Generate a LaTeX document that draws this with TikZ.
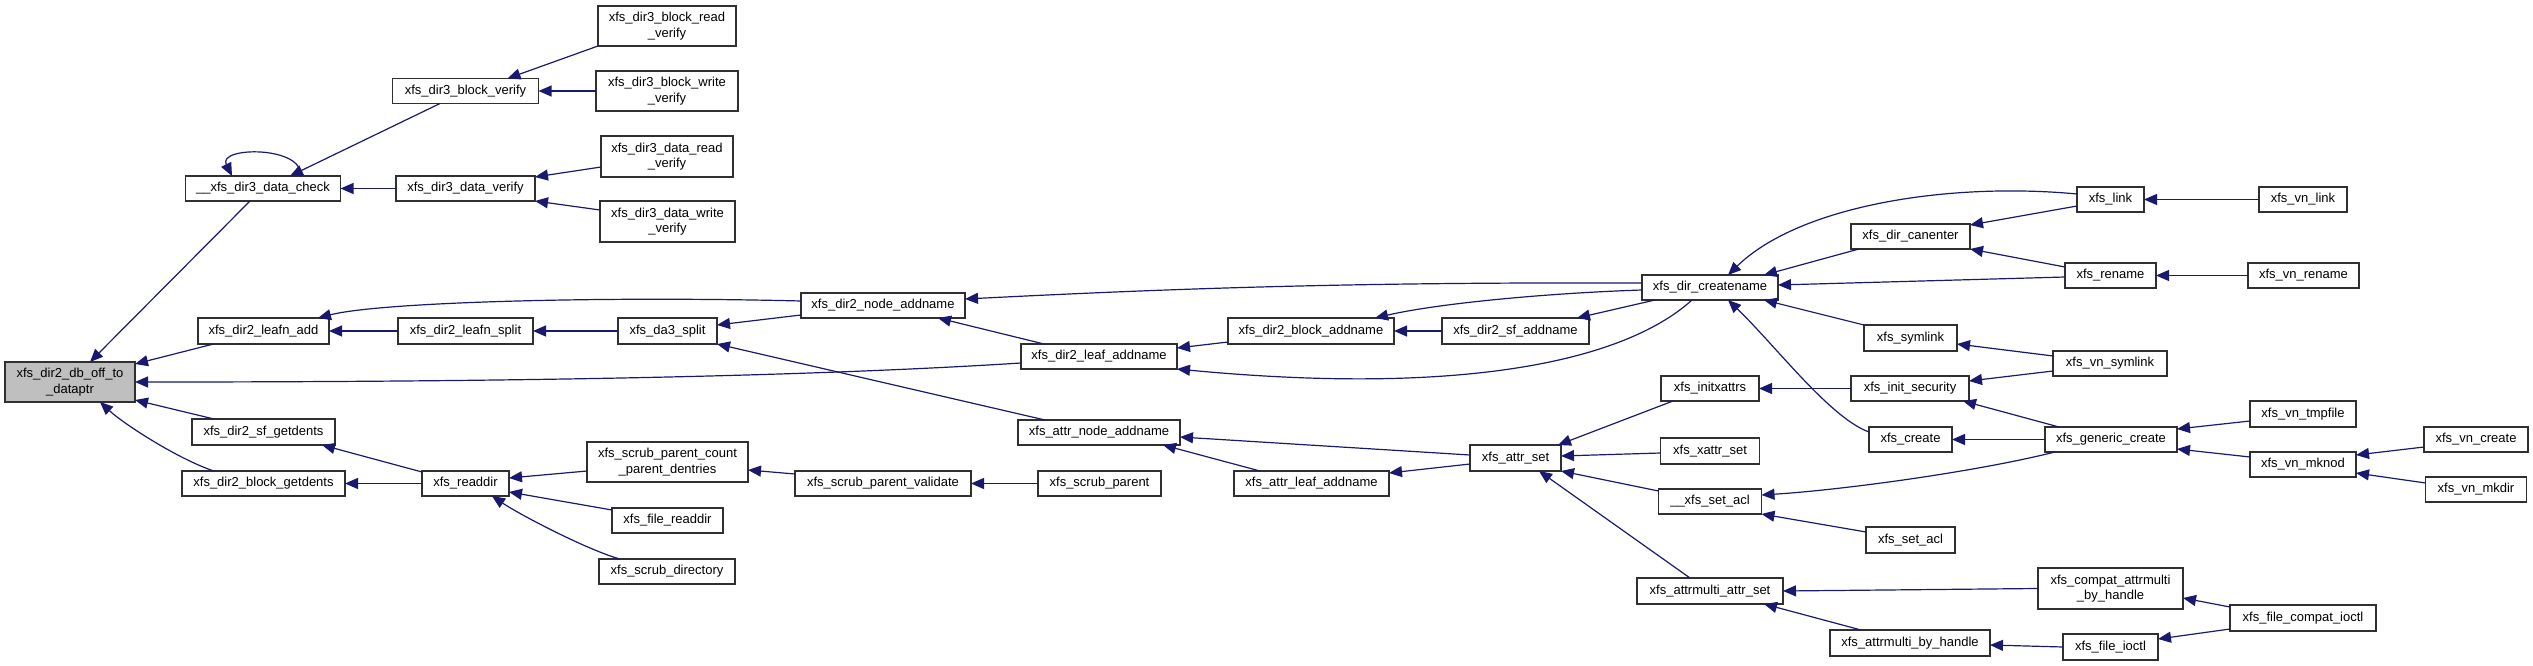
\documentclass[tikz,border=0pt]{standalone}
\usepackage{fontspec}
\setmainfont{Liberation Sans}
\usetikzlibrary{arrows.meta,calc}
\definecolor{edgec}{HTML}{191970}
\definecolor{mainfill}{HTML}{BFBFBF}
\definecolor{boxline}{HTML}{303030}
\tikzset{
  box/.style={draw=boxline, line width=1.6pt, fill=white, inner sep=0pt, outer sep=0pt,
    align=center, font=\fontsize{13}{15.5}\selectfont},
  edge/.style={draw=edgec, line width=1.2pt, -{Triangle[length=13pt,width=11pt]}},
}
\begin{document}
\begin{tikzpicture}[x=1pt,y=-1pt]
\useasboundingbox (0,0) rectangle (2533,666);
% column 0
\node[box,fill=mainfill,minimum width=130pt,minimum height=40pt] (main) at (70,382) {xfs\_dir2\_db\_off\_to\\\_dataptr};
% column 1
\node[box,minimum width=155pt,minimum height=25pt] (dcheck) at (263,188.5) {\_\_xfs\_dir3\_data\_check};
\node[box,minimum width=131pt,minimum height=26pt] (leafnadd) at (263.5,331) {xfs\_dir2\_leafn\_add};
\node[box,minimum width=143pt,minimum height=26pt] (sfget) at (263.5,432) {xfs\_dir2\_sf\_getdents};
\node[box,minimum width=163pt,minimum height=25pt] (blkget) at (263.5,483.5) {xfs\_dir2\_block\_getdents};
% column 2
\node[box,minimum width=146pt,minimum height=25pt] (blkverify) at (465.5,91) {xfs\_dir3\_block\_verify};
\node[box,minimum width=139pt,minimum height=25pt] (dataverify) at (465.5,188.5) {xfs\_dir3\_data\_verify};
\node[box,minimum width=135pt,minimum height=26pt] (leafnsplit) at (465.5,331) {xfs\_dir2\_leafn\_split};
\node[box,minimum width=87pt,minimum height=25pt] (readdir) at (465.5,483.5) {xfs\_readdir};
% column 3
\node[box,minimum width=138pt,minimum height=40pt] (blkread) at (667,26) {xfs\_dir3\_block\_read\\\_verify};
\node[box,minimum width=142pt,minimum height=40pt] (blkwrite) at (667,91) {xfs\_dir3\_block\_write\\\_verify};
\node[box,minimum width=132pt,minimum height=41pt] (dataread) at (667,156.5) {xfs\_dir3\_data\_read\\\_verify};
\node[box,minimum width=135pt,minimum height=41pt] (datawrite) at (667.5,221.5) {xfs\_dir3\_data\_write\\\_verify};
\node[box,minimum width=99pt,minimum height=26pt] (da3split) at (667.5,331) {xfs\_da3\_split};
\node[box,minimum width=161pt,minimum height=40pt] (scrubcount) at (667.5,462) {xfs\_scrub\_parent\_count\\\_parent\_dentries};
\node[box,minimum width=111pt,minimum height=25pt] (filereaddir) at (667.5,520.5) {xfs\_file\_readdir};
\node[box,minimum width=136pt,minimum height=25pt] (scrubdir) at (667,571.5) {xfs\_scrub\_directory};
% column 4
\node[box,minimum width=164pt,minimum height=25pt] (nodeadd) at (883,305.5) {xfs\_dir2\_node\_addname};
\node[box,minimum width=176pt,minimum height=25pt] (validate) at (883,483.5) {xfs\_scrub\_parent\_validate};
% column 5
\node[box,minimum width=156pt,minimum height=25pt] (leafadd) at (1099,356.5) {xfs\_dir2\_leaf\_addname};
\node[box,minimum width=162pt,minimum height=25pt] (attrnode) at (1099,432.5) {xfs\_attr\_node\_addname};
\node[box,minimum width=123pt,minimum height=25pt] (scrubparent) at (1099.5,483.5) {xfs\_scrub\_parent};
% column 6
\node[box,minimum width=166pt,minimum height=26pt] (blockadd) at (1311,331) {xfs\_dir2\_block\_addname};
\node[box,minimum width=155pt,minimum height=25pt] (attrleaf) at (1311.5,483.5) {xfs\_attr\_leaf\_addname};
% column 7
\node[box,minimum width=147pt,minimum height=26pt] (sfadd) at (1515.5,331) {xfs\_dir2\_sf\_addname};
\node[box,minimum width=91pt,minimum height=26pt] (attrset) at (1515.5,458) {xfs\_attr\_set};
% column 8
\node[box,minimum width=136pt,minimum height=25pt] (createname) at (1710,287.5) {xfs\_dir\_createname};
\node[box,minimum width=98pt,minimum height=25pt] (initxattrs) at (1710,388.5) {xfs\_initxattrs};
\node[box,minimum width=99pt,minimum height=26pt] (xattrset) at (1710,451) {xfs\_xattr\_set};
\node[box,minimum width=103pt,minimum height=25pt] (usetacl) at (1710,501.5) {\_\_xfs\_set\_acl};
\node[box,minimum width=146pt,minimum height=26pt] (multiattr) at (1710,591) {xfs\_attrmulti\_attr\_set};
% column 9
\node[box,minimum width=119pt,minimum height=25pt] (canenter) at (1910.5,236.5) {xfs\_dir\_canenter};
\node[box,minimum width=93pt,minimum height=26pt] (symlink) at (1910.5,338) {xfs\_symlink};
\node[box,minimum width=118pt,minimum height=25pt] (initsec) at (1910,388.5) {xfs\_init\_security};
\node[box,minimum width=83pt,minimum height=25pt] (create) at (1910.5,439.5) {xfs\_create};
\node[box,minimum width=89pt,minimum height=26pt] (setacl) at (1910.5,540) {xfs\_set\_acl};
\node[box,minimum width=160pt,minimum height=26pt] (multihandle) at (1910,643) {xfs\_attrmulti\_by\_handle};
% column 10
\node[box,minimum width=67pt,minimum height=25pt] (link) at (2110.5,199.5) {xfs\_link};
\node[box,minimum width=91pt,minimum height=25pt] (rename) at (2110.5,275.5) {xfs\_rename};
\node[box,minimum width=114pt,minimum height=25pt] (vnsymlink) at (2110,363.5) {xfs\_vn\_symlink};
\node[box,minimum width=132pt,minimum height=25pt] (generic) at (2111,439.5) {xfs\_generic\_create};
\node[box,minimum width=145pt,minimum height=41pt] (compat) at (2110.5,588.5) {xfs\_compat\_attrmulti\\\_by\_handle};
\node[box,minimum width=95pt,minimum height=26pt] (fileioctl) at (2110.5,647) {xfs\_file\_ioctl};
% column 11
\node[box,minimum width=88pt,minimum height=25pt] (vnlink) at (2303,199.5) {xfs\_vn\_link};
\node[box,minimum width=111pt,minimum height=25pt] (vnrename) at (2303.5,275.5) {xfs\_vn\_rename};
\node[box,minimum width=106pt,minimum height=26pt] (vntmpfile) at (2303,414) {xfs\_vn\_tmpfile};
\node[box,minimum width=106pt,minimum height=25pt] (vnmknod) at (2303,464.5) {xfs\_vn\_mknod};
\node[box,minimum width=146pt,minimum height=26pt] (fcompat) at (2303,618) {xfs\_file\_compat\_ioctl};
% column 12
\node[box,minimum width=104pt,minimum height=25pt] (vncreate) at (2476,439.5) {xfs\_vn\_create};
\node[box,minimum width=101pt,minimum height=25pt] (vnmkdir) at (2476,489.5) {xfs\_vn\_mkdir};

% edges (arrow at callee)
\draw[edge] ([xshift=-13]dcheck.south) -- ([xshift=20]main.north);
\draw[edge] ([xshift=-50]leafnadd.south) -- ([yshift=-2]main.north east);
\draw[edge] ([yshift=-6.5]leafadd.west) .. controls +(-221,14) and +(365,0) .. (main.east);
\draw[edge] ([xshift=-49.5]sfget.north) -- ([yshift=2]main.south east);
\draw[edge] ([xshift=-49.5]blkget.north) .. controls +(-34,-11) and +(25,23) .. ([xshift=30]main.south);
\draw[edge] ([xshift=-25.5]blkverify.south) -- ([xshift=27]dcheck.north);
\draw[edge] (dataverify.west) -- (dcheck.east);
\draw[edge] ([xshift=37]dcheck.north) .. controls +(5,-30) and +(-15,-30) .. ([xshift=-31]dcheck.north);
\draw[edge] (blkread.south west) -- ([xshift=42]blkverify.north);
\draw[edge] (blkwrite.west) -- (blkverify.east);
\draw[edge] ([yshift=-10.5]dataread.west) -- ([yshift=-1]dataverify.north east);
\draw[edge] ([yshift=11.5]datawrite.west) -- (dataverify.south east);
\draw[edge] ([yshift=4.5]nodeadd.west) .. controls +(-200,-5) and +(62,-16) .. ([xshift=54.5]leafnadd.north);
\draw[edge] (leafnsplit.west) -- (leafnadd.east);
\draw[edge] (da3split.west) -- (leafnsplit.east);
\draw[edge] ([yshift=3]nodeadd.south west) -- ([yshift=6]da3split.east);
\draw[edge] ([xshift=-54]attrnode.north) -- (da3split.south east);
\draw[edge] ([xshift=-55]leafadd.north) -- ([xshift=55]nodeadd.south);
\draw[edge] ([yshift=4.5]createname.west) .. controls +(-300,-1) and +(200,-10) .. ([yshift=6.5]nodeadd.east);
\draw[edge] ([yshift=2]blockadd.south west) -- ([yshift=-4]leafadd.north east);
\draw[edge] ([xshift=-18]createname.south) .. controls +(-72,65) and +(273,26) .. (leafadd.south east);
\draw[edge] (sfadd.west) -- (blockadd.east);
\draw[edge] ([yshift=-2.5]createname.west) .. controls +(-92,3) and +(65,-15) .. ([xshift=-19]blockadd.north east);
\draw[edge] ([xshift=13]createname.south west) -- ([xshift=61.5]sfadd.north);
\draw[edge] ([yshift=3]attrset.west) -- ([yshift=-4.5]attrnode.east);
\draw[edge] ([yshift=-6]attrset.west) -- ([yshift=-2]attrleaf.north east);
\draw[edge] ([xshift=-51.5]attrleaf.north) -- ([xshift=-17]attrnode.south east);
\draw[edge] ([xshift=12]initxattrs.south west) -- ([xshift=-3]attrset.north east);
\draw[edge] ([yshift=-2]xattrset.west) -- ([yshift=2]attrset.east);
\draw[edge] ([yshift=-2]usetacl.north west) -- (attrset.south east);
\draw[edge] ([xshift=-20]multiattr.north) -- ([xshift=23.5]attrset.south);
\draw[edge] ([xshift=8]canenter.south west) -- ([xshift=-14]createname.north east);
\draw[edge] ([yshift=5.5]link.west) .. controls +(-127,-12) and +(72,-70) .. ([xshift=18]createname.north);
\draw[edge] ([yshift=-1.5]rename.west) -- ([yshift=2.5]createname.east);
\draw[edge] (symlink.north west) -- ([xshift=-14]createname.south east);
\draw[edge] ([yshift=7.5]create.west) .. controls +(-39,-14) and +(47,45) .. ([xshift=18]createname.south);
\draw[edge] ([yshift=-6.5]link.west) -- ([yshift=-1]canenter.north east);
\draw[edge] ([yshift=-4]rename.north west) -- (canenter.south east);
\draw[edge] (vnlink.west) -- (link.east);
\draw[edge] (vnrename.west) -- (rename.east);
\draw[edge] ([yshift=-5]vnsymlink.north west) -- ([yshift=-6]symlink.east);
\draw[edge] ([yshift=-7.5]vnsymlink.west) -- ([yshift=-5]initsec.north east);
\draw[edge] (initsec.west) -- (initxattrs.east);
\draw[edge] ([xshift=14]generic.north west) -- ([xshift=-6]initsec.south east);
\draw[edge] (generic.west) -- (create.east);
\draw[edge] ([xshift=10]generic.south west) .. controls +(-80,20) and +(80,-5) .. ([yshift=6.5]usetacl.east);
\draw[edge] ([yshift=8]setacl.west) -- (usetacl.south east);
\draw[edge] ([yshift=-7]vntmpfile.west) -- ([yshift=-2]generic.north east);
\draw[edge] ([yshift=7.5]vnmknod.west) -- ([yshift=-9.5]generic.east);
\draw[edge] ([yshift=-7.5]vncreate.west) -- ([yshift=9.5]vnmknod.east);
\draw[edge] ([yshift=6.5]vnmkdir.west) -- ([yshift=-8.5]vnmknod.east);
\draw[edge] (compat.west) -- (multiattr.east);
\draw[edge] ([xshift=-49]multihandle.north) -- ([xshift=-19]multiattr.south east);
\draw[edge] ([yshift=-2]fcompat.north west) -- ([yshift=-9.5]compat.east);
\draw[edge] ([yshift=2]fcompat.south west) -- ([yshift=8]fileioctl.east);
\draw[edge] (fileioctl.west) -- ([yshift=-2]multihandle.east);
\draw[edge] ([yshift=-1]readdir.north west) -- ([xshift=-13]sfget.south east);
\draw[edge] (readdir.west) -- (blkget.east);
\draw[edge] ([yshift=-9]scrubcount.west) -- ([yshift=5.5]readdir.east);
\draw[edge] ([yshift=-2]filereaddir.north west) -- ([yshift=-8.5]readdir.east);
\draw[edge] ([xshift=21]scrubdir.north west) .. controls +(-30,-8) and +(30,20) .. ([xshift=-17]readdir.south east);
\draw[edge] ([yshift=9.5]validate.west) -- ([yshift=-8]scrubcount.east);
\draw[edge] (scrubparent.west) -- (validate.east);
\end{tikzpicture}
\end{document}
